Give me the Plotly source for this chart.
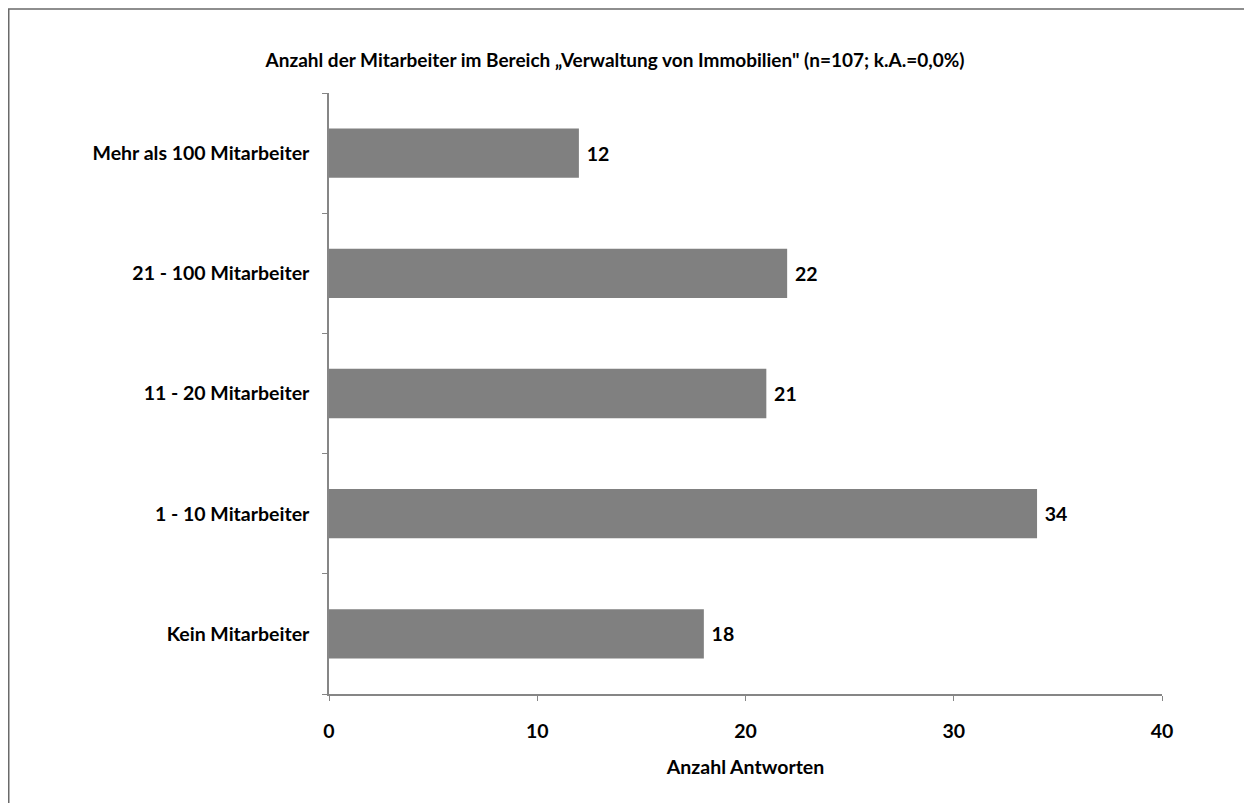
import plotly.graph_objects as go

categories = ["Kein Mitarbeiter", "1 - 10 Mitarbeiter", "11 - 20 Mitarbeiter",
              "21 - 100 Mitarbeiter", "Mehr als 100 Mitarbeiter"]
values = [18, 34, 21, 22, 12]
x_ticks = [0, 10, 20, 30, 40]
title_text = "Anzahl der Mitarbeiter im Bereich „Verwaltung von Immobilien\" (n=107; k.A.=0,0%)"
x_title = "Anzahl Antworten"

FONT = "Lato, 'Open Sans', sans-serif"
AXIS_COLOR = "#868686"
FS = 19.5

# plot area in figure pixels (page has an 8px body margin)
L, R, T, B = 321, 1154, 85, 686
W, H = 1252, 803
PW, PH = R - L, B - T

fig = go.Figure(go.Bar(
    x=values, y=categories, orientation="h",
    marker=dict(color="#808080", line=dict(width=0)),
    texttemplate=" %{x}", textposition="outside", cliponaxis=False,
    textfont=dict(family=FONT, size=FS, color="black", weight="bold"),
    width=0.41,
))

fig.update_layout(
    width=W, height=H,
    margin=dict(l=L, r=W - R, t=T, b=H - B),
    paper_bgcolor="white", plot_bgcolor="white",
    showlegend=False,
    title=dict(text=title_text, x=607 / W, xanchor="center", y=1 - 52 / H, yanchor="middle",
               font=dict(family=FONT, size=19, color="black", weight="bold")),
    font=dict(family=FONT, color="black"),
)

fig.update_xaxes(
    range=[0, 40], tickvals=x_ticks, ticktext=[str(v) for v in x_ticks],
    showgrid=False, zeroline=False,
    showline=True, linecolor=AXIS_COLOR, linewidth=1.5,
    ticks="outside", ticklen=5, tickcolor=AXIS_COLOR, tickwidth=1,
    ticklabelstandoff=14,
    tickfont=dict(family=FONT, size=FS, color="black", weight="bold"),
    title=dict(text=x_title, standoff=19,
               font=dict(family=FONT, size=FS, color="black", weight="bold")),
)

fig.update_yaxes(
    type="category", categoryorder="array", categoryarray=categories,
    range=[-0.5, 4.5],
    showgrid=False, zeroline=False,
    showline=True, linecolor=AXIS_COLOR, linewidth=1.5,
    ticks="outside", tickson="boundaries", ticklen=5, tickcolor=AXIS_COLOR, tickwidth=1,
    ticklabelstandoff=14,
    tickfont=dict(family=FONT, size=FS, color="black", weight="bold"),
)

# outer chart border
fig.add_shape(type="rect", xref="paper", yref="paper",
              x0=(0.75 - L) / PW, x1=(1237 - L) / PW,
              y0=(B - 815) / PH, y1=(B - 1) / PH,
              line=dict(color="#6a6a6a", width=1.5), fillcolor="rgba(0,0,0,0)", layer="below")

fig.write_html("out.html")
